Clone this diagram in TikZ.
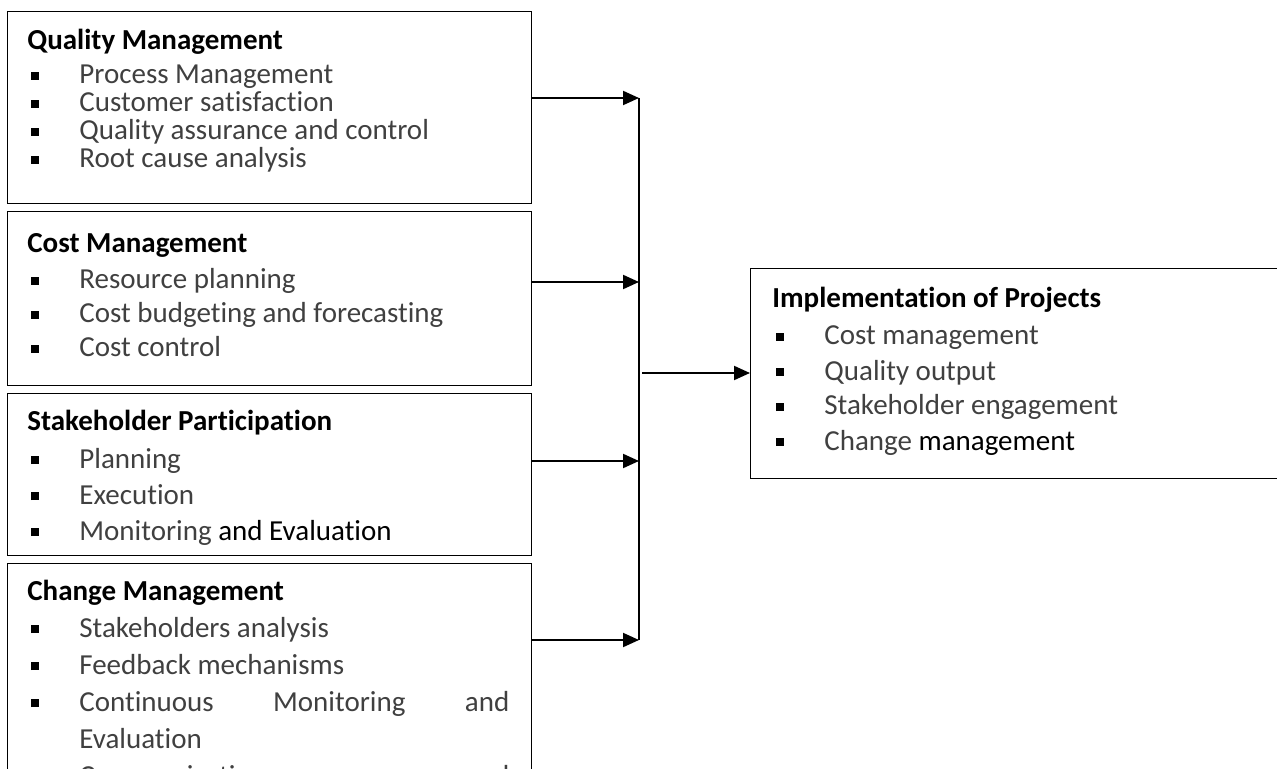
\documentclass[tikz,border=0pt]{standalone}
\usepackage{fontspec}
\setmainfont{Carlito}[Ligatures=NoCommon]
\usepackage{tikz}
\usetikzlibrary{arrows.meta, positioning, calc}
\definecolor{ItemGray}{HTML}{404040}

\newcommand{\sqmark}{{\color{black}\rule[2pt]{4pt}{4pt}}}
\newcommand{\ptitem}[1]{\par\noindent\hangindent=26pt\makebox[26pt][l]{\hspace*{2pt}\sqmark}#1}
\newcommand{\pthead}[2]{{\color{black}\textbf{#1}}\par\vspace{#2}}
\newcommand{\bodyfont}[1]{\fontsize{14.5}{#1}\selectfont\setlength{\parskip}{0pt}\setlength{\lineskiplimit}{-20pt}}

\tikzset{
    frame/.style={draw=black, line width=0.65pt, rectangle, anchor=north west, inner sep=0pt},
    body/.style={anchor=base west, text width=241pt, inner sep=0pt, align=justify, text=ItemGray,
                 font=\bodyfont{#1}},
    feed/.style={line width=1pt, -{Triangle[length=8pt,width=7pt]}},
    bus/.style={line width=0.6pt}
}

\begin{document}
\begin{tikzpicture}[x=0.5pt, y=-0.5pt]
    \useasboundingbox (0,0) rectangle (1277,769);
    \clip (0,0) rectangle (1277,769);

    \node[frame, minimum width=262pt, minimum height=96pt] (qm) at (7,11) {};
    \node[frame, minimum width=262pt, minimum height=87pt] (cm) at (7,211) {};
    \node[frame, minimum width=262pt, minimum height=81pt] (sp) at (7,393) {};
    \node[frame, minimum width=262pt, minimum height=120pt] (chm) at (7,563) {};
    \node[frame, minimum width=300pt, minimum height=105pt] (impl) at (750,268) {};

    \node[body=14pt] (qmtext) at ($(qm.north west)+(20,39)$) {
        \pthead{Quality Management}{3pt}
        \ptitem{Process Management}
        \ptitem{Customer satisfaction}
        \ptitem{Quality assurance and control}
        \ptitem{Root cause analysis}
    };
    \node[body=17pt] (cmtext) at ($(cm.north west)+(20,42)$) {
        \pthead{Cost Management}{1pt}
        \ptitem{Resource planning}
        \ptitem{Cost budgeting and forecasting}
        \ptitem{Cost control}
    };
    \node[body=18pt] (sptext) at ($(sp.north west)+(20,37)$) {
        \pthead{Stakeholder Participation}{1pt}
        \ptitem{Planning}
        \ptitem{Execution}
        \ptitem{Monitoring {\color{black}and Evaluation}}
    };
    \node[body=18.5pt] (chmtext) at ($(chm.north west)+(20,37)$) {
        \pthead{Change Management}{0pt}
        \ptitem{Stakeholders analysis}
        \ptitem{Feedback mechanisms}
        \ptitem{Continuous\hfill Monitoring\hfill and\\Evaluation}
        \ptitem{Communication\hfill and\\}
    };
    \node[body=17.5pt] (impltext) at ($(impl.north west)+(22,40)$) {
        \pthead{Implementation of Projects}{1pt}
        \ptitem{Cost management}
        \ptitem{Quality output}
        \ptitem{Stakeholder engagement}
        \ptitem{Change {\color{black}management}}
    };

    \coordinate (b1) at (639,98);
    \coordinate (b2) at (639,282);
    \coordinate (b3) at (639,461);
    \coordinate (b4) at (639,640);
    \coordinate (hub) at (642,373);

    \draw[bus] (b1) -- (b4);
    \draw[feed] (qm.east |- b1) -- (b1);
    \draw[feed] (cm.east |- b2) -- (b2);
    \draw[feed] (sp.east |- b3) -- (b3);
    \draw[feed] (chm.east |- b4) -- (b4);
    \draw[feed] (hub) -- (impl.west |- hub);
\end{tikzpicture}
\end{document}
